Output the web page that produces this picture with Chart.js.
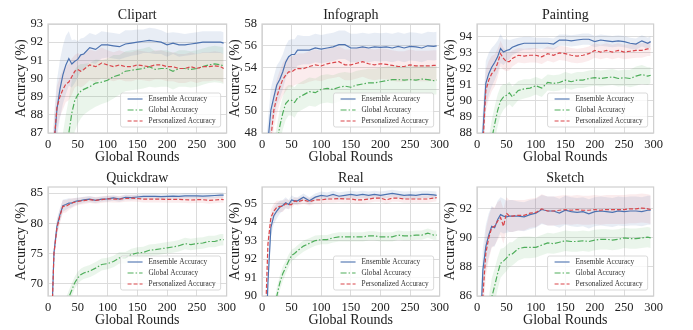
<!DOCTYPE html>
<html>
<head>
<meta charset="utf-8">
<script src="https://cdn.jsdelivr.net/npm/chart.js@4.4.0/dist/chart.umd.min.js"></script>
<style>
  html, body { margin: 0; padding: 0; background: #fff; }
  body { width: 693px; height: 330px; position: relative; overflow: hidden; }
  canvas { position: absolute; }
</style>
</head>
<body>
<canvas id="c0"></canvas>
<canvas id="c1"></canvas>
<canvas id="c2"></canvas>
<canvas id="c3"></canvas>
<canvas id="c4"></canvas>
<canvas id="c5"></canvas>
<script>
// global rounds at which accuracy was sampled
var rounds = [0,5,10,15,20,25,30,35,40,45,50,55,60,70,80,90,100,110,120,130,140,150,160,170,180,190,200,210,220,230,240,250,260,270,280,290,295];

// Clipart
var clipartEns  = [78,83,86.3,88.3,89.4,90.2,90.75,91.1,90.8,90.95,91.05,91.3,91.35,91.7,91.6,91.85,91.85,91.8,91.75,91.9,91.95,92.0,92.05,92.1,92.05,92.0,91.85,91.95,91.85,91.85,91.9,91.95,92.0,92.0,92.0,92.0,91.95];
var clipartGlob = [70,75,79,82,84,85,86,87.0,88.1,88.8,89.1,89.3,89.4,89.55,89.75,89.8,89.9,90.1,90.2,90.4,90.45,90.5,90.55,90.65,90.5,90.55,90.55,90.4,90.55,90.55,90.5,90.55,90.65,90.75,90.8,90.75,90.7];
var clipartPers = [78,83,86.4,88.4,89.0,89.4,89.7,89.8,90.1,90.4,90.5,90.4,90.5,90.75,90.65,90.85,90.75,90.65,90.75,90.65,90.65,90.75,90.7,90.65,90.75,90.75,90.65,90.65,90.55,90.55,90.65,90.55,90.65,90.65,90.7,90.65,90.55];
var clipartEnsSd  = [1.6,1.6,1.6,1.6,1.6,1.6,1.6,1.5,1.3,1.2,1.0,0.9,0.9,0.8,0.8,0.75,0.7,0.7,0.7,0.75,0.7,0.7,0.65,0.7,0.7,0.65,0.65,0.6,0.65,0.6,0.6,0.6,0.6,0.6,0.6,0.6,0.6];
var clipartGlobSd = [2,2,2,2,2,2,2,1.9,1.8,1.7,1.6,1.5,1.4,1.3,1.3,1.2,1.2,1.2,1.1,1.1,1.1,1.1,1.1,1.1,1.0,1.0,1.0,1.0,1.0,1.0,1.0,1.0,1.0,1.0,1.0,1.0,1.0];
var clipartPersSd = [1.2,1.2,1.2,1.2,1.1,1.1,1.0,1.0,1.0,0.9,0.9,0.9,0.9,0.85,0.85,0.85,0.8,0.8,0.8,0.8,0.8,0.8,0.8,0.8,0.8,0.8,0.8,0.8,0.8,0.8,0.8,0.8,0.8,0.8,0.8,0.8,0.8];

// Infograph
var infoEns  = [40,44,47.2,50.1,51.3,52.4,52.9,53.6,54.5,55.0,55.2,55.2,55.6,55.6,55.6,55.8,55.7,55.8,55.9,56.1,56.1,55.8,55.8,55.9,55.8,55.9,55.85,55.9,55.8,55.95,55.8,55.95,55.9,55.8,56.0,55.95,56.0];
var infoGlob = [36,40,42,44,45.5,47,48.6,49.8,50.7,51.0,51.0,50.8,51.2,51.5,51.8,51.7,52.0,52.1,52.0,52.2,52.3,52.2,52.4,52.5,52.6,52.6,52.7,52.8,52.9,52.9,52.85,52.9,52.85,52.95,52.9,52.8,52.85];
var infoPers = [40,43,45.5,47.5,50.1,51.3,52.2,52.9,53.3,53.6,53.6,53.8,53.9,53.9,54.1,54.25,54.15,54.35,54.45,54.55,54.25,54.25,54.4,54.55,54.35,54.25,54.35,54.3,54.2,54.1,54.1,54.25,54.15,54.15,54.15,54.2,54.2];
var infoEnsSd  = [2,2,2,2,1.9,1.8,1.7,1.6,1.5,1.5,1.4,1.4,1.4,1.3,1.3,1.3,1.3,1.3,1.3,1.3,1.3,1.3,1.3,1.3,1.3,1.3,1.3,1.3,1.3,1.3,1.3,1.3,1.3,1.3,1.3,1.3,1.3];
var infoGlobSd = [1.6,1.6,1.6,1.6,1.6,1.6,1.6,1.5,1.5,1.4,1.4,1.4,1.3,1.3,1.3,1.3,1.3,1.3,1.3,1.3,1.3,1.3,1.3,1.3,1.3,1.3,1.3,1.3,1.3,1.3,1.3,1.3,1.3,1.3,1.3,1.3,1.3];
var infoPersSd = [1.6,1.6,1.6,1.6,1.6,1.6,1.5,1.5,1.5,1.4,1.4,1.4,1.4,1.4,1.4,1.4,1.4,1.4,1.4,1.4,1.4,1.4,1.4,1.4,1.4,1.4,1.4,1.4,1.4,1.4,1.4,1.4,1.4,1.4,1.4,1.4,1.4];

// Painting
var paintEns  = [80,85,88.0,91.1,91.7,92.1,92.4,92.75,93.27,93.05,93.15,93.2,93.35,93.5,93.6,93.6,93.6,93.6,93.6,93.55,93.8,93.8,93.75,93.8,93.85,93.85,93.7,93.8,93.75,93.7,93.75,93.7,93.6,93.55,93.75,93.6,93.7];
var paintGlob = [75,80,83,85,86.5,87.6,88.55,89.4,90.0,90.25,90.35,90.5,90.25,90.65,90.75,90.8,90.95,90.8,91.15,91.1,91.15,91.3,91.2,91.3,91.3,91.4,91.45,91.4,91.45,91.5,91.4,91.45,91.4,91.55,91.65,91.55,91.6];
var paintPers = [80,84,87.3,90.65,91.3,91.7,91.9,92.35,92.95,92.65,92.45,92.45,92.65,92.85,92.8,92.85,92.85,92.75,92.95,92.85,93.0,92.95,92.85,92.8,92.85,92.95,93.15,93.05,93.15,93.05,93.15,93.05,93.1,93.15,93.15,93.25,93.25];
var paintEnsSd  = [1.4,1.4,1.4,1.4,1.3,1.2,1.1,1.0,0.9,0.8,0.7,0.6,0.5,0.45,0.4,0.4,0.35,0.35,0.35,0.35,0.35,0.35,0.35,0.35,0.35,0.35,0.35,0.35,0.35,0.35,0.35,0.35,0.35,0.35,0.35,0.35,0.35];
var paintGlobSd = [1.2,1.2,1.2,1.2,1.2,1.2,1.1,1.0,0.9,0.8,0.7,0.7,0.65,0.6,0.6,0.55,0.55,0.55,0.5,0.5,0.5,0.5,0.5,0.5,0.5,0.5,0.5,0.5,0.5,0.5,0.5,0.5,0.55,0.6,0.6,0.55,0.5];
var paintPersSd = [1.3,1.3,1.3,1.3,1.2,1.1,1.0,0.9,0.8,0.7,0.6,0.55,0.5,0.45,0.45,0.45,0.45,0.45,0.45,0.45,0.45,0.45,0.45,0.45,0.45,0.45,0.45,0.45,0.45,0.45,0.45,0.45,0.45,0.45,0.45,0.45,0.45];

// Quickdraw
var quickEns  = [40,60,75.1,79.5,81.4,82.9,83.1,83.35,83.35,83.6,83.7,83.75,83.9,84.0,83.8,84.0,84.05,84.2,84.0,84.3,84.25,84.35,84.45,84.45,84.45,84.4,84.45,84.5,84.45,84.55,84.55,84.55,84.5,84.55,84.6,84.65,84.65];
var quickGlob = [40,50,56,60,63,65,66.5,67.8,69.0,70.2,71.0,71.5,71.8,72.1,72.6,73.2,73.35,73.7,74.3,74.3,74.85,75.1,75.2,75.55,75.65,75.8,75.95,76.1,76.3,76.65,76.5,76.65,76.75,77.0,77.0,77.3,77.3];
var quickPers = [40,60,75.0,79.2,81.2,82.8,82.8,83.1,83.35,83.5,83.6,83.7,83.75,83.9,83.8,83.9,84.05,84.0,84.0,84.1,84.15,84.1,84.0,84.0,84.0,84.0,83.95,83.95,83.95,83.9,83.85,83.9,83.9,83.8,83.85,83.95,83.9];
var quickEnsSd  = [1.2,1.2,1.2,1.2,1.1,1.0,0.9,0.8,0.7,0.6,0.55,0.5,0.5,0.5,0.45,0.45,0.45,0.45,0.45,0.45,0.45,0.45,0.45,0.45,0.45,0.45,0.45,0.45,0.45,0.45,0.45,0.45,0.45,0.45,0.45,0.45,0.45];
var quickGlobSd = [1.2,1.2,1.2,1.2,1.2,1.2,1.2,1.1,1.1,1.0,1.0,1.0,1.0,1.0,1.0,1.0,0.95,0.95,0.95,0.95,0.95,0.95,0.95,0.95,0.95,0.95,0.95,0.95,0.95,0.95,0.95,0.95,0.95,0.95,0.95,0.95,0.95];
var quickPersSd = [1.3,1.3,1.3,1.3,1.2,1.1,1.0,0.9,0.8,0.7,0.6,0.6,0.6,0.55,0.55,0.55,0.55,0.55,0.55,0.55,0.55,0.55,0.55,0.55,0.55,0.55,0.55,0.55,0.55,0.55,0.55,0.55,0.55,0.55,0.55,0.55,0.55];

// Real
var realEns  = [80,86,90.7,93.7,94.35,94.6,94.8,94.9,95.05,94.95,95.2,95.15,95.15,95.35,95.15,95.35,95.45,95.4,95.5,95.4,95.45,95.5,95.45,95.5,95.45,95.5,95.45,95.5,95.55,95.5,95.45,95.47,95.45,95.5,95.5,95.47,95.45];
var realGlob = [75,82,85.5,87.5,89,90.0,90.7,91.2,91.55,91.9,92.2,92.3,92.45,92.7,92.85,93.0,93.05,93.05,93.15,93.2,93.2,93.2,93.2,93.2,93.25,93.25,93.2,93.2,93.2,93.3,93.25,93.25,93.3,93.3,93.4,93.3,93.3];
var realPers = [82,88,92.8,94.25,94.6,94.8,94.85,94.85,95.0,94.95,94.95,95.15,95.1,95.2,95.1,95.2,95.2,95.25,95.25,95.27,95.25,95.25,95.2,95.2,95.25,95.3,95.3,95.2,95.3,95.3,95.25,95.25,95.25,95.25,95.25,95.3,95.32];
var realEnsSd  = [0.5,0.5,0.5,0.5,0.45,0.4,0.35,0.3,0.3,0.25,0.25,0.2,0.2,0.2,0.2,0.2,0.2,0.2,0.2,0.2,0.2,0.2,0.2,0.2,0.2,0.2,0.2,0.2,0.2,0.2,0.2,0.2,0.2,0.2,0.2,0.2,0.2];
var realGlobSd = [0.5,0.5,0.5,0.5,0.5,0.45,0.4,0.4,0.35,0.35,0.3,0.3,0.3,0.3,0.28,0.28,0.25,0.25,0.25,0.25,0.25,0.25,0.25,0.25,0.25,0.25,0.25,0.25,0.25,0.25,0.25,0.25,0.25,0.25,0.25,0.25,0.25];
var realPersSd = [0.5,0.5,0.5,0.45,0.4,0.35,0.3,0.3,0.25,0.25,0.2,0.2,0.2,0.2,0.2,0.2,0.2,0.2,0.2,0.2,0.2,0.2,0.2,0.2,0.2,0.2,0.2,0.2,0.2,0.2,0.2,0.2,0.2,0.2,0.2,0.2,0.2];

// Sketch
var sketchEns  = [78,83,87.8,89.4,90.2,90.8,90.7,91.25,91.6,91.5,91.45,91.5,91.5,91.5,91.45,91.6,91.7,91.95,91.85,91.85,91.7,91.9,91.8,91.75,91.8,91.65,91.8,91.85,91.8,91.75,91.85,91.8,91.85,91.85,91.8,91.9,91.9];
var sketchGlob = [72,78,81,83,84.5,85.9,86.7,87.55,88.25,88.4,88.6,88.85,88.9,89.25,89.35,89.35,89.35,89.5,89.65,89.6,89.7,89.8,89.75,89.75,89.8,89.75,89.85,89.9,89.9,89.85,89.9,90.0,89.95,89.95,90.0,90.05,90.0];
var sketchPers = [78,82,86.0,88.95,90.0,90.7,90.8,91.15,91.4,90.8,91.7,91.5,91.5,91.55,91.55,91.7,91.75,92.0,91.85,91.85,91.9,91.95,91.9,91.95,91.9,91.9,91.95,91.9,91.95,91.95,91.95,91.95,92.0,92.0,92.05,92.0,91.95];
var sketchEnsSd  = [1.5,1.5,1.5,1.5,1.5,1.4,1.3,1.3,1.2,1.2,1.1,1.1,1.1,1.0,1.0,1.0,1.0,1.0,1.0,1.0,1.0,1.0,1.0,1.0,1.0,1.0,1.0,1.0,1.0,1.0,1.0,1.0,1.0,1.0,1.0,1.0,1.0];
var sketchGlobSd = [1.4,1.4,1.4,1.4,1.4,1.3,1.2,1.1,1.0,0.9,0.9,0.85,0.8,0.8,0.75,0.75,0.7,0.7,0.7,0.7,0.7,0.7,0.7,0.7,0.7,0.7,0.7,0.7,0.7,0.7,0.7,0.7,0.7,0.7,0.7,0.7,0.7];
var sketchPersSd = [1.6,1.6,1.6,1.6,1.5,1.4,1.3,1.3,1.2,1.2,1.1,1.1,1.1,1.05,1.05,1.0,1.0,1.0,1.0,1.0,1.0,1.0,1.0,1.0,1.0,1.0,1.0,1.0,1.0,1.0,1.0,1.0,1.0,1.0,1.0,1.0,1.0];

var seriesNames = ['Ensemble Accuracy', 'Global Accuracy', 'Personalized Accuracy'];
var lineColors = ['#4c72b0', '#4fae5b', '#d9464b'];
var bandColors = ['rgba(76,114,176,0.13)', 'rgba(79,174,91,0.12)', 'rgba(217,70,75,0.10)'];
var dashes = [[], [6, 2, 1.5, 2], [4, 2]];

var panels = [
  { id: 'c0', title: 'Clipart',   vals: [clipartEns, clipartGlob, clipartPers], sds: [clipartEnsSd, clipartGlobSd, clipartPersSd], yMin: 87, yMax: 93,   yStep: 1, box: [48, 24, 228, 133] },
  { id: 'c1', title: 'Infograph', vals: [infoEns, infoGlob, infoPers],          sds: [infoEnsSd, infoGlobSd, infoPersSd],          yMin: 48, yMax: 58,   yStep: 2, box: [262, 24, 441, 133] },
  { id: 'c2', title: 'Painting',  vals: [paintEns, paintGlob, paintPers],       sds: [paintEnsSd, paintGlobSd, paintPersSd],       yMin: 88, yMax: 94.8, yStep: 1, box: [477, 24, 655, 133] },
  { id: 'c3', title: 'Quickdraw', vals: [quickEns, quickGlob, quickPers],       sds: [quickEnsSd, quickGlobSd, quickPersSd],       yMin: 68, yMax: 86,   yStep: 5, box: [48, 187, 228, 296] },
  { id: 'c4', title: 'Real',      vals: [realEns, realGlob, realPers],          sds: [realEnsSd, realGlobSd, realPersSd],          yMin: 90, yMax: 95.9, yStep: 1, box: [262, 187, 441, 296] },
  { id: 'c5', title: 'Sketch',    vals: [sketchEns, sketchGlob, sketchPers],    sds: [sketchEnsSd, sketchGlobSd, sketchPersSd],    yMin: 86, yMax: 93.5, yStep: 2, box: [477, 187, 655, 296] }
];

var FONT = "'Liberation Serif', 'Times New Roman', serif";
Chart.defaults.font.family = FONT;
Chart.defaults.color = '#222';

// light grey frame around the plot area (seaborn whitegrid look)
var frame = {
  id: 'frame',
  beforeDatasetsDraw: function (chart) {
    var a = chart.chartArea, ctx = chart.ctx;
    ctx.save();
    ctx.strokeStyle = '#cfcfcf';
    ctx.lineWidth = 1.2;
    ctx.strokeRect(a.left, a.top, a.right - a.left, a.bottom - a.top);
    ctx.restore();
  }
};

// legend box in the lower right corner of the plot area
var legendBox = {
  id: 'legendBox',
  afterDatasetsDraw: function (chart) {
    var a = chart.chartArea, ctx = chart.ctx;
    ctx.save();
    ctx.font = '7.3px ' + FONT;
    var maxW = 0;
    seriesNames.forEach(function (n) { maxW = Math.max(maxW, ctx.measureText(n).width); });
    var w = 28 + maxW + 5, h = 34;
    var x = a.right - 6 - w, y = a.bottom - 6 - h;
    ctx.beginPath();
    ctx.roundRect(x, y, w, h, 2);
    ctx.fillStyle = 'rgba(255,255,255,0.8)';
    ctx.fill();
    ctx.strokeStyle = '#d0d0d0';
    ctx.lineWidth = 0.8;
    ctx.stroke();
    seriesNames.forEach(function (n, i) {
      var ry = y + 6 + i * 11;
      ctx.beginPath();
      ctx.setLineDash(dashes[i]);
      ctx.strokeStyle = lineColors[i];
      ctx.lineWidth = 1.1;
      ctx.moveTo(x + 7, ry);
      ctx.lineTo(x + 22, ry);
      ctx.stroke();
      ctx.setLineDash([]);
      ctx.fillStyle = '#333';
      ctx.textBaseline = 'middle';
      ctx.fillText(n, x + 28, ry + 0.5);
    });
    ctx.restore();
  }
};

function pts(vals, sd, sign) {
  return rounds.map(function (r, i) {
    return { x: r, y: sd ? vals[i] + sign * sd[i] : vals[i] };
  });
}

panels.forEach(function (p) {
  var cv = document.getElementById(p.id);
  var L = p.box[0], T = p.box[1], R = p.box[2], B = p.box[3];
  cv.style.left = (L - 46) + 'px';
  cv.style.top = (T - 24) + 'px';
  cv.width = (R - L) + 46 + 12;
  cv.height = (B - T) + 24 + 34;

  var datasets = [];
  for (var s = 0; s < 3; s++) {
    datasets.push({ data: pts(p.vals[s], p.sds[s], -1), borderWidth: 0, pointRadius: 0, fill: false, order: 10 + s });
    datasets.push({ data: pts(p.vals[s], p.sds[s], 1), borderWidth: 0, pointRadius: 0, fill: '-1', backgroundColor: bandColors[s], order: 10 + s });
  }
  for (var k = 0; k < 3; k++) {
    datasets.push({
      label: seriesNames[k],
      data: pts(p.vals[k]),
      borderColor: lineColors[k],
      borderWidth: 1.2,
      borderDash: dashes[k],
      pointRadius: 0,
      fill: false,
      tension: 0,
      order: 3 - k
    });
  }

  new Chart(cv, {
    type: 'line',
    data: { datasets: datasets },
    plugins: [frame, legendBox],
    options: {
      responsive: false,
      animation: false,
      layout: { padding: { left: 0, right: 12, top: 0, bottom: 0 } },
      plugins: {
        legend: { display: false },
        tooltip: { enabled: false },
        title: {
          display: true,
          fullSize: false,
          text: p.title,
          color: '#222',
          font: { size: 14, weight: 'normal' },
          padding: { top: 7, bottom: 0.2 }
        }
      },
      scales: {
        x: {
          type: 'linear',
          min: 0, max: 300,
          ticks: { stepSize: 50, padding: 4, font: { size: 12.5 }, color: '#222', maxRotation: 0 },
          grid: { color: '#dcdcdc', drawTicks: false },
          border: { display: false },
          title: { display: true, text: 'Global Rounds', font: { size: 14 }, color: '#222', padding: { top: 0, bottom: 1 } },
          afterFit: function (s) { s.height = 34; }
        },
        y: {
          min: p.yMin, max: p.yMax,
          ticks: { stepSize: p.yStep, padding: 5, font: { size: 12.5 }, color: '#222', includeBounds: false },
          grid: { color: '#dcdcdc', drawTicks: false },
          border: { display: false },
          title: { display: true, text: 'Accuracy (%)', font: { size: 14 }, color: '#222', padding: { top: 11, bottom: 0 } },
          afterFit: function (s) { s.width = 46; }
        }
      }
    }
  });
});
</script>
</body>
</html>
